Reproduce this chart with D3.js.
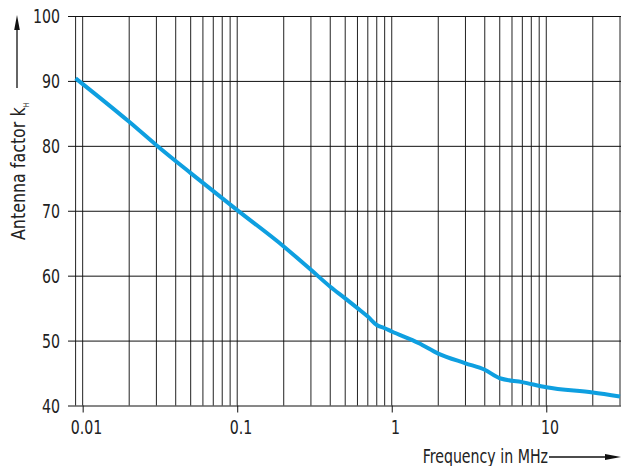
<!DOCTYPE html>
<html>
<head>
<meta charset="utf-8">
<script src="https://cdn.jsdelivr.net/npm/d3@7"></script>
<style>
  body { margin: 0; background: #fff; }
  svg text { font-family: "Liberation Sans Narrow", "Arial Narrow", "DejaVu Sans Condensed", sans-serif; fill: #222; }
</style>
</head>
<body>
<svg id="chart"></svg>
<script>
// values
const freqMHz = [0.009, 0.02, 0.03, 0.05, 0.1, 0.2, 0.3, 0.4, 0.5, 0.6, 0.7, 0.8, 0.9, 1, 1.5, 2, 3, 4, 5, 7, 10, 20, 30];
const antennaFactor = [90.4, 83.7, 80.1, 75.8, 70.1, 64.5, 60.9, 58.3, 56.5, 55.0, 53.7, 52.4, 51.9, 51.4, 49.6, 48.0, 46.5, 45.5, 44.2, 43.6, 42.8, 42.0, 41.4];
const yTicks = [40, 50, 60, 70, 80, 90, 100];
const xMajor = [0.01, 0.1, 1, 10];
const xLabels = ["0.01", "0.1", "1", "10"];
const yTitle = "Antenna factor k";
const yTitleSub = "H";
const xTitle = "Frequency in MHz";

const width = 621, height = 466;
const squeeze = 0.83; // the original uses a condensed face
const svg = d3.select("#chart").attr("width", width).attr("height", height);

const x = d3.scaleLog().domain([0.009, 30]).range([75.6, 620]);
const y = d3.scaleLinear().domain([40, 100]).range([405.5, 16]);

// vertical grid: 1..9 in every decade inside the domain
const gridVals = [];
for (let e = -3; e <= 1; e++) {
    for (let k = 1; k <= 9; k++) {
        const v = +(k * Math.pow(10, e)).toPrecision(3);
        if (v >= 0.009 && v <= 30) gridVals.push(v);
    }
}

const grid = svg.append("g");
grid.selectAll("line.v")
    .data(gridVals)
    .join("line")
    .attr("class", "v")
    .attr("x1", d => x(d)).attr("x2", d => x(d))
    .attr("y1", y(100)).attr("y2", y(40))
    .attr("stroke", "#222")
    .attr("stroke-width", 1);

// y axis with full-width grid lines
const yAxis = svg.append("g")
    .attr("transform", "translate(68,0)")
    .call(d3.axisLeft(y).tickValues(yTicks).tickSize(-(width - 68)).tickPadding(8 / squeeze));
yAxis.select(".domain").remove();
yAxis.selectAll("line").attr("stroke", "#111");
yAxis.selectAll("text")
    .style("font-size", "19px")
    .attr("dy", "0.35em")
    .attr("transform", `scale(${squeeze},1)`);

// x axis: major ticks poke out below
const xAxis = svg.append("g")
    .attr("transform", `translate(0,${y(40)})`)
    .call(d3.axisBottom(x).tickValues(xMajor).tickFormat((d, i) => xLabels[i]).tickSize(7).tickPadding(8));
xAxis.select(".domain").remove();
xAxis.selectAll("line").attr("stroke", "#111");
xAxis.selectAll("text")
    .style("font-size", "19px")
    .attr("dx", "4")
    .attr("transform", `scale(${squeeze},1)`);

// curve
const line = d3.line()
    .x((d, i) => x(freqMHz[i]))
    .y(d => y(d))
    .curve(d3.curveMonotoneX);
svg.append("path")
    .datum(antennaFactor)
    .attr("d", line)
    .attr("fill", "none")
    .attr("stroke", "#0e9fe0")
    .attr("stroke-width", 4)
    .attr("stroke-linejoin", "round");

// y title, rotated, with subscript and arrow
const yt = svg.append("text")
    .attr("transform", "translate(25,240) rotate(-90) scale(0.93,1)")
    .style("font-size", "19px");
yt.append("tspan").text(yTitle);
yt.append("tspan").text(yTitleSub).attr("dy", 4).style("font-size", "8px");

svg.append("line")
    .attr("x1", 17).attr("x2", 17)
    .attr("y1", 88).attr("y2", 28)
    .attr("stroke", "#111").attr("stroke-width", 1.3);
svg.append("path")
    .attr("d", "M17,15 L14.2,30 L19.8,30 Z")
    .attr("fill", "#111");

// x title with arrow
svg.append("text")
    .attr("transform", `translate(548,463) scale(${squeeze},1)`)
    .attr("text-anchor", "end")
    .style("font-size", "19px")
    .text(xTitle);
svg.append("line")
    .attr("x1", 549).attr("x2", 608)
    .attr("y1", 457).attr("y2", 457)
    .attr("stroke", "#111").attr("stroke-width", 1.3);
svg.append("path")
    .attr("d", "M621,457 L605,454 L605,460 Z")
    .attr("fill", "#111");
</script>
</body>
</html>
